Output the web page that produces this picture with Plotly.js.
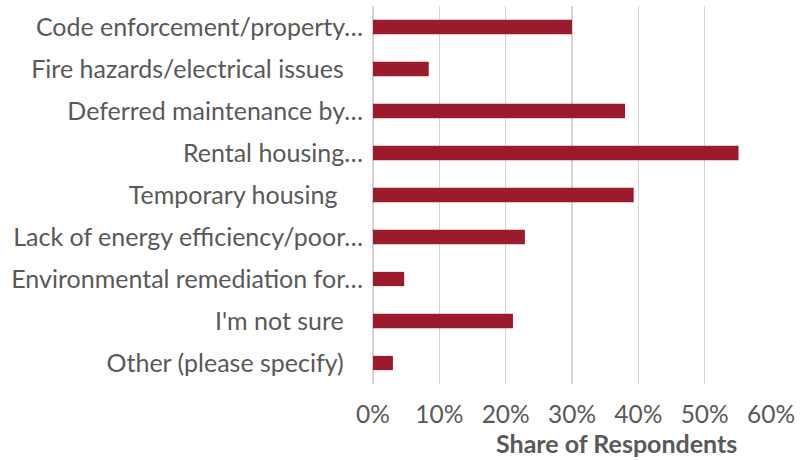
<!DOCTYPE html>
<html>
<head>
<meta charset="utf-8">
<script src="https://cdn.plot.ly/plotly-3.0.1.min.js"></script>
<style>html,body{margin:0;padding:0;background:#fff;}#chart{width:803px;height:460px;}</style>
</head>
<body>
<div id="chart"></div>
<script>
const categories = [
  "Code enforcement/property\u2026",
  "Fire hazards/electrical issues\u00a0\u00a0\u00a0",
  "Deferred maintenance by\u2026",
  "Rental housing\u2026",
  "Temporary housing\u00a0\u00a0\u00a0\u00a0",
  "Lack of energy efficiency/poor\u2026",
  "Environmental remediation for\u2026",
  "I'm not sure\u00a0\u00a0\u00a0",
  "Other (please specify)\u00a0\u00a0\u00a0"
];
const shares = [0.300, 0.084, 0.380, 0.551, 0.393, 0.229, 0.047, 0.211, 0.030];
const tickValues = [0, 0.1, 0.2, 0.3, 0.4, 0.5, 0.6];
const tickLabels = ["0%", "10%", "20%", "30%", "40%", "50%", "60%"];
const axisTitle = "Share of Respondents";

const FONT = "Lato, 'Open Sans', sans-serif";
const GRAY = "#595959";

Plotly.newPlot("chart", [{
  type: "bar",
  orientation: "h",
  x: shares,
  y: categories,
  marker: {color: "#9B1A2C"},
  hoverinfo: "x+y"
}], {
  width: 803, height: 460,
  margin: {l: 373, r: 32, t: 6, b: 76, pad: 0},
  paper_bgcolor: "#fff", plot_bgcolor: "#fff",
  bargap: 0.66,
  showlegend: false,
  font: {family: FONT, color: GRAY, size: 24.5},
  xaxis: {
    range: [0, 0.6],
    tickvals: tickValues, ticktext: tickLabels,
    showgrid: true, gridcolor: "#d4d4d4", gridwidth: 1.4,
    zeroline: true, zerolinecolor: "#d4d4d4", zerolinewidth: 1.4,
    showline: false, ticks: "", ticklabelstandoff: 13,
    tickfont: {size: 24.5, color: GRAY, family: FONT},
    fixedrange: true
  },
  yaxis: {
    type: "category",
    categoryorder: "array", categoryarray: categories,
    autorange: "reversed",
    showgrid: false, showline: false, zeroline: false, ticks: "",
    ticklabelstandoff: 9,
    tickfont: {size: 25, color: GRAY, family: FONT},
    automargin: false,
    fixedrange: true
  },
  annotations: [{
    text: "<b>" + axisTitle + "</b>",
    xref: "paper", yref: "paper",
    x: 0.613, y: -0.155,
    xanchor: "center", yanchor: "middle",
    showarrow: false,
    font: {size: 25, color: GRAY, family: FONT}
  }]
}, {displayModeBar: false, staticPlot: true});
</script>
</body>
</html>
